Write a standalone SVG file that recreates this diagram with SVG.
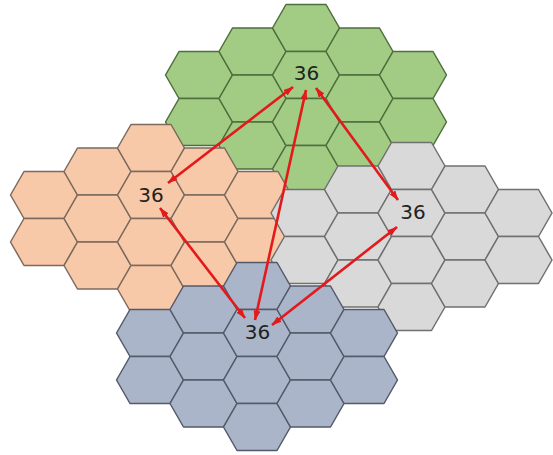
<svg xmlns="http://www.w3.org/2000/svg" xmlns:xlink="http://www.w3.org/1999/xlink" width="553" height="455" viewBox="0 0 553 455">
  <style>
    .g use { fill: #a2cb84; stroke: #4f6e3e; }
    .o use { fill: #f8c9a8; stroke: #7c6a5e; }
    .s use { fill: #d9d9d9; stroke: #707070; }
    .b use { fill: #aab5c9; stroke: #535a69; }
    use { stroke-width: 1.5; stroke-linejoin: round; }
    .lbl { font-family: "DejaVu Sans", sans-serif; font-size: 20px; fill: #222222; text-anchor: middle; }
    .arr { stroke: #e3191b; stroke-width: 2.6; fill: none; marker-start: url(#ah); marker-end: url(#ah); }
  </style>
  <defs>
    <polygon id="hex" points="-33.5,0 -20,-23.5 20,-23.5 33.5,0 20,23.5 -20,23.5"/>
    <marker id="ah" viewBox="0 0 10 7" refX="9.5" refY="3.5" markerWidth="10" markerHeight="7" markerUnits="userSpaceOnUse" orient="auto-start-reverse">
      <path d="M0,0 L10,3.5 L0,7 z" fill="#e3191b"/>
    </marker>
  </defs>

  <g id="cluster-green" class="g" transform="translate(306,75)">
    <use xlink:href="#hex" x="-107" y="0"/>
    <use xlink:href="#hex" x="-107" y="47"/>
    <use xlink:href="#hex" x="-53.5" y="-23.5"/>
    <use xlink:href="#hex" x="-53.5" y="23.5"/>
    <use xlink:href="#hex" x="-53.5" y="70.5"/>
    <use xlink:href="#hex" x="0" y="-47"/>
    <use xlink:href="#hex" x="0" y="0"/>
    <use xlink:href="#hex" x="0" y="47"/>
    <use xlink:href="#hex" x="0" y="94"/>
    <use xlink:href="#hex" x="53.5" y="-23.5"/>
    <use xlink:href="#hex" x="53.5" y="23.5"/>
    <use xlink:href="#hex" x="53.5" y="70.5"/>
    <use xlink:href="#hex" x="107" y="0"/>
    <use xlink:href="#hex" x="107" y="47"/>
  </g>
  <g id="cluster-orange" class="o" transform="translate(151,195)">
    <use xlink:href="#hex" x="-107" y="0"/>
    <use xlink:href="#hex" x="-107" y="47"/>
    <use xlink:href="#hex" x="-53.5" y="-23.5"/>
    <use xlink:href="#hex" x="-53.5" y="23.5"/>
    <use xlink:href="#hex" x="-53.5" y="70.5"/>
    <use xlink:href="#hex" x="0" y="-47"/>
    <use xlink:href="#hex" x="0" y="0"/>
    <use xlink:href="#hex" x="0" y="47"/>
    <use xlink:href="#hex" x="0" y="94"/>
    <use xlink:href="#hex" x="53.5" y="-23.5"/>
    <use xlink:href="#hex" x="53.5" y="23.5"/>
    <use xlink:href="#hex" x="53.5" y="70.5"/>
    <use xlink:href="#hex" x="107" y="0"/>
    <use xlink:href="#hex" x="107" y="47"/>
  </g>
  <g id="cluster-gray" class="s" transform="translate(411.5,213)">
    <use xlink:href="#hex" x="-107" y="0"/>
    <use xlink:href="#hex" x="-107" y="47"/>
    <use xlink:href="#hex" x="-53.5" y="-23.5"/>
    <use xlink:href="#hex" x="-53.5" y="23.5"/>
    <use xlink:href="#hex" x="-53.5" y="70.5"/>
    <use xlink:href="#hex" x="0" y="-47"/>
    <use xlink:href="#hex" x="0" y="0"/>
    <use xlink:href="#hex" x="0" y="47"/>
    <use xlink:href="#hex" x="0" y="94"/>
    <use xlink:href="#hex" x="53.5" y="-23.5"/>
    <use xlink:href="#hex" x="53.5" y="23.5"/>
    <use xlink:href="#hex" x="53.5" y="70.5"/>
    <use xlink:href="#hex" x="107" y="0"/>
    <use xlink:href="#hex" x="107" y="47"/>
  </g>
  <g id="cluster-blue" class="b" transform="translate(257,333)">
    <use xlink:href="#hex" x="-107" y="0"/>
    <use xlink:href="#hex" x="-107" y="47"/>
    <use xlink:href="#hex" x="-53.5" y="-23.5"/>
    <use xlink:href="#hex" x="-53.5" y="23.5"/>
    <use xlink:href="#hex" x="-53.5" y="70.5"/>
    <use xlink:href="#hex" x="0" y="-47"/>
    <use xlink:href="#hex" x="0" y="0"/>
    <use xlink:href="#hex" x="0" y="47"/>
    <use xlink:href="#hex" x="0" y="94"/>
    <use xlink:href="#hex" x="53.5" y="-23.5"/>
    <use xlink:href="#hex" x="53.5" y="23.5"/>
    <use xlink:href="#hex" x="53.5" y="70.5"/>
    <use xlink:href="#hex" x="107" y="0"/>
    <use xlink:href="#hex" x="107" y="47"/>
  </g>

  <g id="labels">
    <text class="lbl" x="306.5" y="80">36</text>
    <text class="lbl" x="151" y="201.5">36</text>
    <text class="lbl" x="413" y="219">36</text>
    <text class="lbl" x="257.5" y="339">36</text>
  </g>

  <g id="connectors">
    <line class="arr" x1="293" y1="87" x2="168" y2="183"/>
    <line class="arr" x1="306" y1="90" x2="255" y2="320"/>
    <line class="arr" x1="316" y1="88" x2="398" y2="200"/>
    <line class="arr" x1="160" y1="208" x2="245" y2="318"/>
    <line class="arr" x1="397" y1="227" x2="272" y2="325"/>
  </g>
</svg>
